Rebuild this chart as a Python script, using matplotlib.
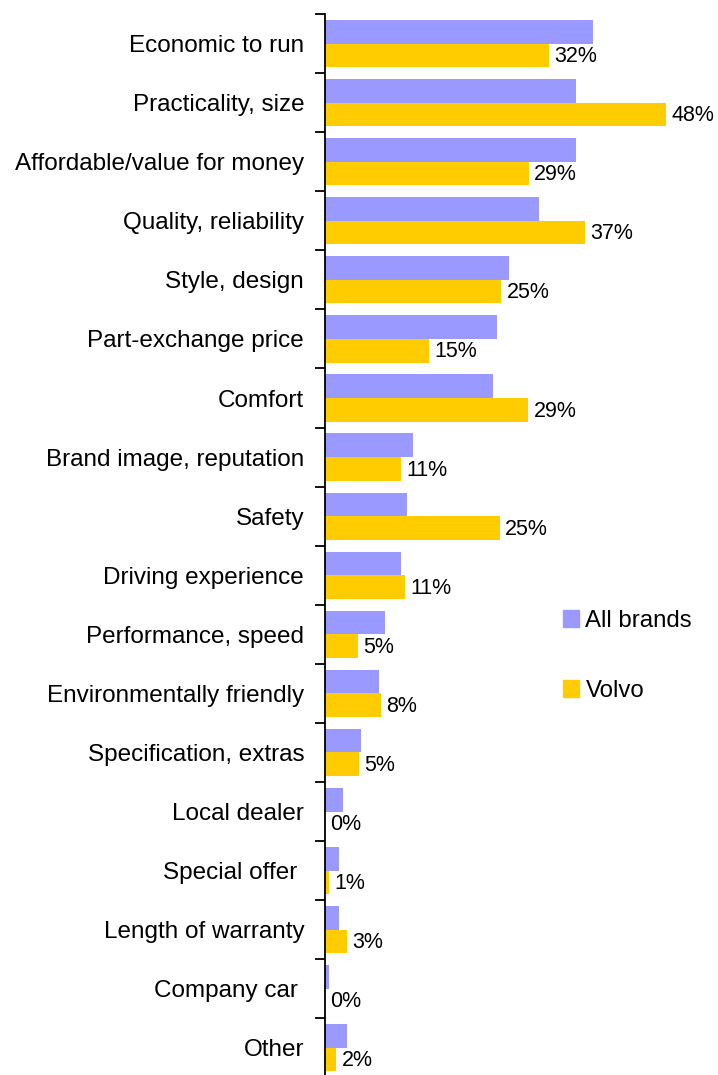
import matplotlib
matplotlib.use("Agg")
import matplotlib.pyplot as plt
from matplotlib.patches import Patch

categories = ["Economic to run", "Practicality, size", "Affordable/value for money",
              "Quality, reliability", "Style, design", "Part-exchange price", "Comfort",
              "Brand image, reputation", "Safety", "Driving experience",
              "Performance, speed", "Environmentally friendly", "Specification, extras",
              "Local dealer", "Special offer ", "Length of warranty", "Company car ", "Other"]
all_brands = [37.7, 35.4, 35.4, 30.1, 25.9, 24.2, 23.7, 12.4, 11.5, 10.7,
              8.5, 7.6, 5.1, 2.5, 2.0, 2.0, 0.6, 3.1]
volvo = [31.6, 48.0, 28.7, 36.6, 24.8, 14.6, 28.6, 10.7, 24.6, 11.3,
         4.6, 7.9, 4.8, 0.0, 0.6, 3.05, 0.0, 1.6]
series_names = ["All brands", "Volvo"]
colors = ["#9999FF", "#FFCC00"]

plt.rcParams['font.family'] = ['Liberation Sans', 'DejaVu Sans']
W, H = 718, 1075
fig = plt.figure(figsize=(W / 100, H / 100), dpi=100)
ax_left = 325 / W
ax_right = 715.5 / W
ax_top = 1 - 14 / H
ax_bottom = -2.4 / H
ax = fig.add_axes([ax_left, ax_bottom, ax_right - ax_left, ax_top - ax_bottom])

n = len(categories)
ypos = list(range(n))
bh = 0.4
ax.barh([y - bh / 2 for y in ypos], all_brands, height=bh, color=colors[0], label=series_names[0])
ax.barh([y + bh / 2 for y in ypos], volvo, height=bh, color=colors[1], label=series_names[1])

for y, v in zip(ypos, volvo):
    ax.text(v + 0.75, y + bh / 2 + 0.02, "%d%%" % round(v), va="center", ha="left", fontsize=15.5)

ax.set_xlim(0, 55)
ax.set_ylim(n - 0.5, -0.5)
ax.set_yticks(ypos)
ax.set_yticklabels(categories, fontsize=17.5)
ax.tick_params(axis="y", which="major", length=0, pad=15)
ax.set_yticks([i - 0.5 for i in range(n + 1)], minor=True)
ax.tick_params(axis="y", which="minor", length=7, width=1.3, direction="out")
ax.set_xticks([])
for s in ["top", "right", "bottom"]:
    ax.spines[s].set_visible(False)
ax.spines["left"].set_linewidth(1.3)

handles = [Patch(color=colors[0]), Patch(color=colors[1])]
fig.legend(handles, series_names, loc="upper left", bbox_to_anchor=(553 / W, 1 - 600 / H),
           frameon=False, fontsize=17.3, handlelength=0.7, handleheight=0.7,
           handletextpad=0.25, labelspacing=2.0, borderaxespad=0)

fig.savefig("out.png", dpi=100)
